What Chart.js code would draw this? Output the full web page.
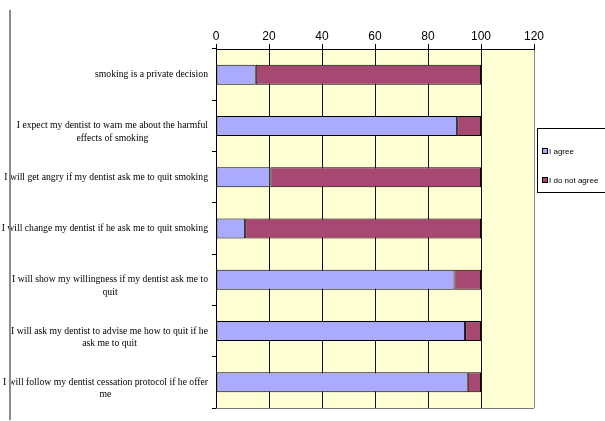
<!DOCTYPE html>
<html>
<head>
<meta charset="utf-8">
<script src="https://cdn.jsdelivr.net/npm/chart.js@4.4.0/dist/chart.umd.min.js"></script>
<style>
  html, body { margin: 0; padding: 0; background: #fff; }
  #wrap { position: relative; width: 605px; height: 421px; }
  #edge { position: absolute; left: 9px; top: 10px; width: 2px; height: 410px; background: #8c8c8c; }
</style>
</head>
<body>
<div id="wrap">
  <div id="edge"></div>
  <canvas id="chart" width="605" height="421"></canvas>
</div>
<script>
// statements, top to bottom
const categories = [
    'smoking is a private decision',
    ['I expect my dentist to warn me about the harmful', 'effects of smoking'],
    'I will get angry if my dentist ask me to quit smoking',
    'I will change my dentist if he ask me to quit smoking',
    ['I will show my willingness if my dentist ask me to', 'quit'],
    ['I will ask my dentist to advise me how to quit if he', 'ask me to quit'],
    ['I will follow my dentist cessation protocol if he offer', 'me']
];
const agree = [15, 91, 20.5, 11, 90, 94, 95];
const disagree = [85, 9, 79.5, 89, 10, 6, 5];
const xTicks = [0, 20, 40, 60, 80, 100, 120];
const seriesNames = ['I agree', 'I do not agree'];
const seriesColors = ['#AAAAFF', '#A64872'];

// yellow plot area, wrapped labels, boxed legend
const paperPlugin = {
    id: 'paper',
    beforeDraw(chart) {
        const { ctx, chartArea: a } = chart;
        ctx.save();
        ctx.fillStyle = '#FFFFD5';
        ctx.fillRect(a.left, a.top, a.right - a.left, a.bottom - a.top);
        ctx.restore();
    },
    afterDraw(chart) {
        const { ctx, chartArea: a } = chart;
        const yScale = chart.scales.y;
        ctx.save();

        // bottom edge
        ctx.strokeStyle = '#777';
        ctx.lineWidth = 1;
        ctx.beginPath();
        ctx.moveTo(a.left, a.bottom + 0.5);
        ctx.lineTo(a.right, a.bottom + 0.5);
        ctx.stroke();

        // category labels: block right aligned, lines centred
        ctx.font = '9.7px "Liberation Serif", "Times New Roman", serif';
        ctx.fillStyle = '#000';
        ctx.textBaseline = 'middle';
        ctx.textAlign = 'center';
        const right = a.left - 8;
        categories.forEach((lab, i) => {
            const lines = Array.isArray(lab) ? lab : [lab];
            const w = Math.max(...lines.map(l => ctx.measureText(l).width));
            const cx = right - w / 2;
            const y = yScale.getPixelForValue(i);
            lines.forEach((l, j) => ctx.fillText(l, cx, y + j * 12.5));
        });

        // legend
        const lx = 537, ly = 128, lw = 70, lh = 64;
        ctx.fillStyle = '#fff';
        ctx.fillRect(lx, ly, lw, lh);
        ctx.strokeStyle = '#000';
        ctx.strokeRect(lx + 0.5, ly + 0.5, lw, lh);
        ctx.font = '8px "Liberation Sans", Arial, sans-serif';
        ctx.textAlign = 'left';
        chart.data.datasets.forEach((ds, i) => {
            const iy = ly + 23 + i * 29;
            ctx.fillStyle = ds.backgroundColor;
            ctx.fillRect(lx + 5, iy - 3, 6, 6);
            ctx.strokeStyle = '#000';
            ctx.strokeRect(lx + 5.5, iy - 2.5, 5, 5);
            ctx.fillStyle = '#000';
            ctx.fillText(ds.label, lx + 12, iy + 0.5);
        });
        ctx.restore();
    }
};

const ctx = document.getElementById('chart');
new Chart(ctx, {
    type: 'bar',
    data: {
        labels: categories,
        datasets: [
            { label: seriesNames[0], data: agree, backgroundColor: seriesColors[0] },
            { label: seriesNames[1], data: disagree, backgroundColor: seriesColors[1] }
        ]
    },
    options: {
        indexAxis: 'y',
        responsive: false,
        animation: false,
        layout: { padding: { left: 0, right: 71, top: 0, bottom: 13 } },
        datasets: {
            bar: {
                borderColor: '#000',
                borderWidth: 1,
                borderSkipped: false,
                categoryPercentage: 1,
                barPercentage: 0.39
            }
        },
        plugins: {
            legend: { display: false },
            tooltip: { enabled: false }
        },
        scales: {
            x: {
                position: 'top',
                stacked: true,
                min: 0,
                max: 120,
                afterBuildTicks: s => { s.ticks = xTicks.map(v => ({ value: v })); },
                afterFit: s => { s.height = 49; },
                grid: {
                    color: c => (c.tick && c.tick.value === 120 ? '#888' : '#111'),
                    lineWidth: 1,
                    tickLength: 5,
                    tickColor: '#000'
                },
                border: { color: '#000' },
                ticks: {
                    padding: 0,
                    color: '#000',
                    font: { family: '"Liberation Sans", Arial, sans-serif', size: 12 }
                }
            },
            y: {
                stacked: true,
                afterFit: s => { s.width = 216; },
                grid: { drawOnChartArea: false, tickLength: 4, color: '#000' },
                border: { color: '#000' },
                ticks: { display: false }
            }
        }
    },
    plugins: [paperPlugin]
});
</script>
</body>
</html>
